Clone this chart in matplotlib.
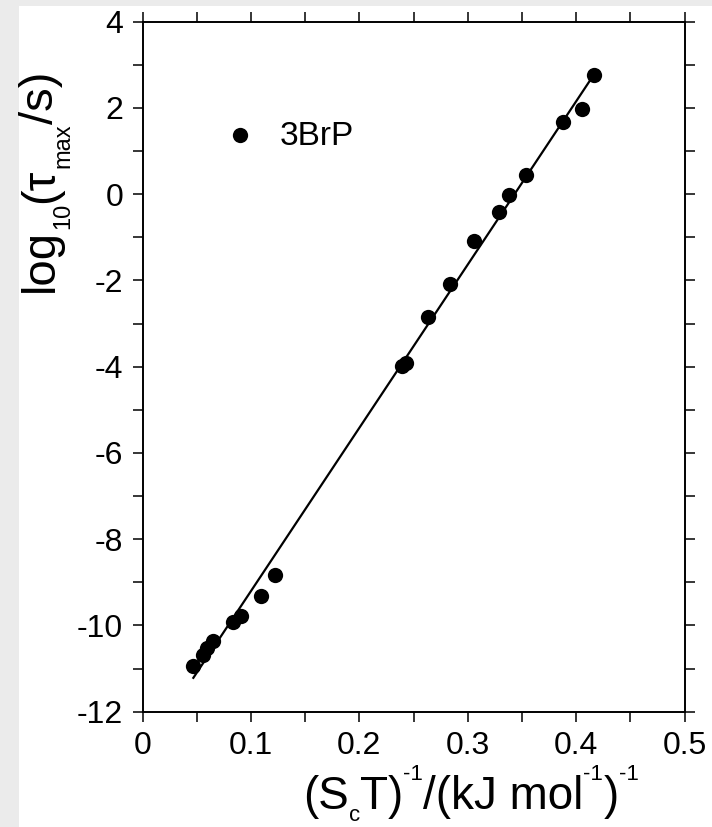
import numpy as np
import matplotlib
matplotlib.use("Agg")
import matplotlib.pyplot as plt
from matplotlib.patches import Rectangle

plt.rcParams['font.family'] = ['Liberation Sans', 'DejaVu Sans']

# data
series_name = "3BrP"
inv_ScT = [0.0469, 0.0555, 0.0598, 0.0648, 0.0836, 0.0908, 0.1092, 0.1224,
           0.2395, 0.2434, 0.2632, 0.2839, 0.3059, 0.3289, 0.3378, 0.3539,
           0.3882, 0.4053, 0.4168]
log_tau = [-10.94, -10.68, -10.52, -10.35, -9.93, -9.79, -9.31, -8.82,
           -3.99, -3.92, -2.84, -2.09, -1.08, -0.42, -0.02, 0.45,
           1.67, 1.98, 2.77]
x_ticks = [0, 0.1, 0.2, 0.3, 0.4, 0.5]
x_tick_labels = ["0", "0.1", "0.2", "0.3", "0.4", "0.5"]
y_ticks = [-12, -10, -8, -6, -4, -2, 0, 2, 4]
y_tick_labels = ["-12", "-10", "-8", "-6", "-4", "-2", "0", "2", "4"]

# label pieces: (text, size_pt, baseline shift in px; + = raised)
xlabel_pieces = [("(S", 33, 0), ("c", 16, -12), ("T)", 33, 0), ("-1", 16, 29),
                 ("/(kJ mol", 33, 0), ("-1", 16, 29), (")", 33, 0), ("-1", 16, 29)]
ylabel_pieces = [("log", 34, 0), ("10", 17, -16), ("(\u03c4", 34, 0),
                 ("max", 17, -16), ("/s)", 34, 0)]

W, H = 712, 827
fig = plt.figure(figsize=(W / 100, H / 100), dpi=100, facecolor='#ebebeb')
fig.patches.append(Rectangle((19 / W, 0), 1 - 19 / W, 1 - 6 / H,
                             transform=fig.transFigure, facecolor='white',
                             edgecolor='none', zorder=-10))

ax_l, ax_r, ax_t, ax_b = 142.5, 684.5, 21.7, 711.7
ax = fig.add_axes([ax_l / W, 1 - ax_b / H, (ax_r - ax_l) / W, (ax_b - ax_t) / H])
ax.set_facecolor('white')

x = np.array(inv_ScT)
y = np.array(log_tau)
slope, intercept = np.polyfit(x, y, 1)
xl = np.array([x.min(), x.max()])
ax.plot(xl, slope * xl + intercept, color='black', lw=1.6, zorder=2)
ax.plot(x, y, 'o', color='black', ms=11, mew=0, zorder=3, clip_on=False)

ax.set_xlim(0, 0.5)
ax.set_ylim(-12, 4)
ax.set_xticks(x_ticks)
ax.set_xticklabels(x_tick_labels)
ax.set_yticks(y_ticks)
ax.set_yticklabels(y_tick_labels)
ax.set_xticks(np.arange(0, 0.5001, 0.05), minor=True)
ax.set_yticks(np.arange(-12, 4.01, 1), minor=True)

for s in ax.spines.values():
    s.set_linewidth(1.4)
ax.tick_params(which='both', direction='out', top=True, right=True,
               length=7, width=1.1, labelsize=23)
ax.tick_params(axis='y', pad=7)
ax.tick_params(axis='x', pad=7)

# legend
ax.plot([0.0895], [1.38], 'o', color='black', ms=11, mew=0)
ax.text(0.1265, 1.15, series_name, fontsize=24, va='baseline', ha='left')

renderer = fig.canvas.get_renderer()


def chain_h(pieces, x0, base_y):
    pos = x0
    for txt, size, shift in pieces:
        t = fig.text(pos / W, 1 - (base_y - shift) / H, txt, fontsize=size,
                     ha='left', va='baseline')
        pos += t.get_window_extent(renderer).width


def chain_v(pieces, base_x, y0):
    pos = y0  # pixel from top, text grows upward
    for txt, size, shift in pieces:
        t = fig.text((base_x - shift) / W, 1 - pos / H, txt, fontsize=size,
                     ha='left', va='baseline', rotation=90,
                     rotation_mode='anchor')
        pos -= t.get_window_extent(renderer).height


chain_h(xlabel_pieces, 303, 809)
chain_v(ylabel_pieces, 53, 292)

fig.savefig('out.png', dpi=100, facecolor=fig.get_facecolor())
